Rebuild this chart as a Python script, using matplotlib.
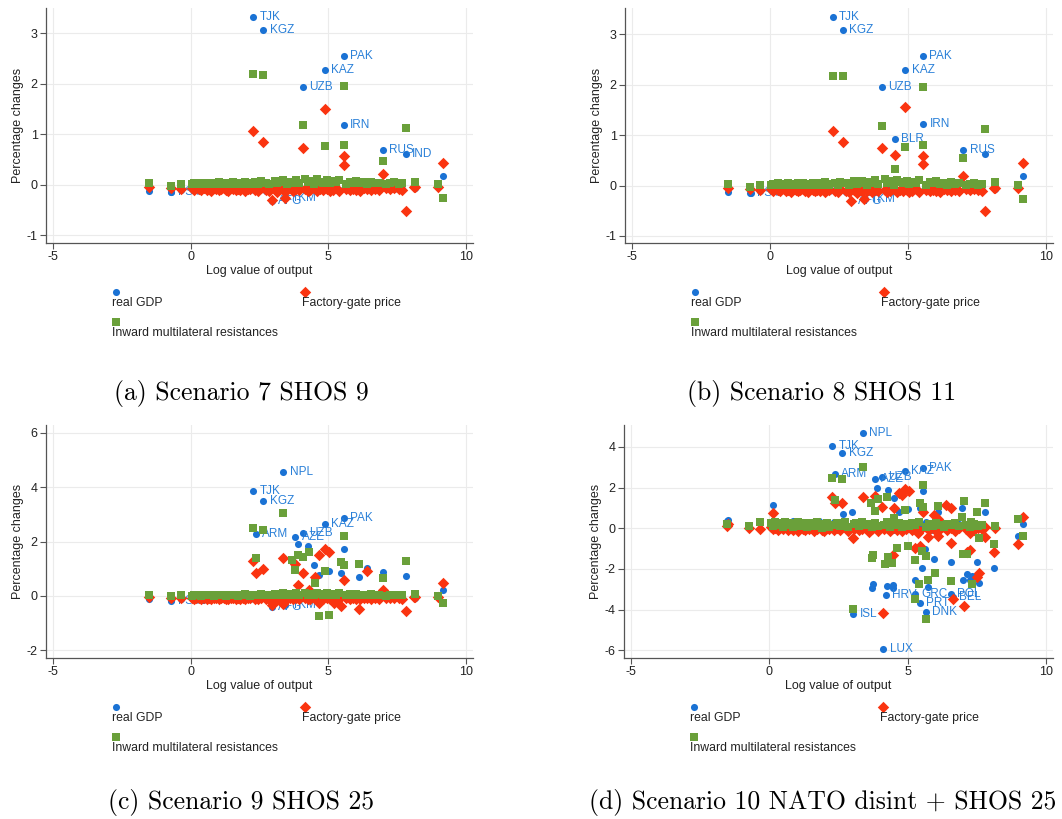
import numpy as np
import matplotlib.pyplot as plt

plt.rcParams['font.family'] = ['Liberation Sans', 'DejaVu Sans']
plt.rcParams['axes.unicode_minus'] = False

BLUE = "#1a72d4"
RED = "#fa3410"
GREEN = "#6aa03a"

# countries sitting in the dense band around zero (log value of output)
band_x = [-1.52, -0.72, -0.35, 0.05, 0.12, 0.20, 0.30, 0.38, 0.50, 0.58,
          0.66, 0.75, 0.85, 0.93, 1.02, 1.10, 1.20, 1.28, 1.37, 1.45,
          1.55, 1.63, 1.72, 1.80, 1.90, 1.98, 2.07, 2.15, 2.35, 2.45,
          2.55, 2.75, 2.85, 3.05, 3.15, 3.25, 3.35, 3.50, 3.60, 3.70,
          3.82, 3.92, 4.15, 4.25, 4.35, 4.48, 4.60, 4.70, 4.80, 4.95,
          5.05, 5.15, 5.28, 5.40, 5.65, 5.78, 5.90, 6.02, 6.15, 6.30,
          6.42, 6.55, 6.70, 6.85, 7.10, 7.25, 7.40, 7.55, 7.68, 8.15]

band_gdp = [-0.13, -0.14, -0.10, -0.08, -0.09, -0.07, -0.10, -0.08, -0.06, -0.09,
            -0.07, -0.08, -0.10, -0.06, -0.09, -0.07, -0.08, -0.11, -0.07, -0.09,
            -0.06, -0.08, -0.10, -0.07, -0.09, -0.08, -0.06, -0.10, -0.08, -0.07,
            -0.09, -0.12, -0.08, -0.10, -0.07, -0.09, -0.11, -0.08, -0.06, -0.10,
            -0.07, -0.09, -0.08, -0.06, -0.10, -0.07, -0.09, -0.08, -0.11, -0.07,
            -0.09, -0.06, -0.08, -0.10, -0.07, -0.09, -0.08, -0.06, -0.10, -0.07,
            -0.09, -0.08, -0.07, -0.10, -0.06, -0.09, -0.08, -0.07, -0.09, -0.06]
band_price = [-0.04, -0.06, -0.08, -0.07, -0.10, -0.06, -0.09, -0.11, -0.07, -0.10,
              -0.08, -0.12, -0.07, -0.09, -0.11, -0.08, -0.06, -0.10, -0.12, -0.07,
              -0.09, -0.11, -0.08, -0.10, -0.07, -0.12, -0.09, -0.08, -0.11, -0.13,
              -0.07, -0.10, -0.12, -0.09, -0.14, -0.08, -0.11, -0.10, -0.07, -0.12,
              -0.09, -0.11, -0.08, -0.13, -0.10, -0.07, -0.12, -0.09, -0.11, -0.08,
              -0.13, -0.10, -0.07, -0.12, -0.09, -0.11, -0.08, -0.10, -0.12, -0.07,
              -0.09, -0.11, -0.08, -0.10, -0.07, -0.09, -0.06, -0.08, -0.10, -0.05]
band_imr = [0.03, -0.02, 0.02, 0.01, 0.03, 0.02, 0.04, 0.01, 0.03, 0.02,
            0.04, 0.02, 0.01, 0.03, 0.05, 0.02, 0.04, 0.01, 0.03, 0.02,
            0.05, 0.03, 0.01, 0.04, 0.02, 0.06, 0.03, 0.01, 0.05, 0.02,
            0.07, 0.04, 0.02, 0.08, 0.03, 0.05, 0.09, 0.02, 0.06, 0.04,
            0.10, 0.03, 0.12, 0.05, 0.08, 0.02, 0.11, 0.06, 0.04, 0.09,
            0.03, 0.07, 0.05, 0.10, 0.02, 0.06, 0.04, 0.08, 0.03, 0.05,
            0.02, 0.06, 0.03, 0.04, 0.01, 0.03, 0.05, 0.02, 0.03, 0.06]

band_gdp_d = [0.38, 0.05, 0.30, 0.18, 0.28, 0.12, 0.32, 0.25, 0.35, 0.15,
              0.30, 0.22, 0.36, 0.18, 0.28, 0.10, 0.33, 0.20, 0.27, 0.14,
              0.31, 0.08, 0.25, 0.35, 0.12, 0.28, 0.05, 0.22, 0.30, 0.10,
              0.18, 0.26, 0.06, 0.15, 0.22, 0.02, 0.12, 0.20, -0.05, 0.10,
              0.15, -0.02, 0.08, 0.30, 0.05, -0.08, 0.12, 0.02, 0.18, -0.04,
              0.08, 0.22, -0.05, 0.10, 0.30, 0.02, -0.10, 0.15, 0.05, 0.25,
              -0.06, 0.12, 0.04, 0.20, -0.03, 0.08, 0.15, 0.02, 0.10, 0.05]
band_price_d = [0.10, 0.02, -0.02, 0.05, -0.05, 0.03, -0.08, 0.01, -0.04, 0.06,
                -0.10, 0.00, -0.06, 0.04, -0.12, 0.02, -0.03, -0.09, 0.05, -0.05,
                0.01, -0.11, -0.02, 0.06, -0.07, -0.15, 0.03, -0.04, -0.10, 0.02,
                -0.06, 0.05, -0.13, -0.02, 0.08, -0.09, -0.04, 0.04, -0.16, -0.03,
                0.06, -0.11, -0.05, 0.03, -0.14, 0.02, -0.08, 0.07, -0.12, -0.02,
                0.05, -0.09, 0.01, -0.15, 0.04, -0.06, 0.09, -0.11, -0.03, 0.06,
                -0.08, 0.03, -0.12, 0.02, -0.05, 0.08, -0.10, 0.01, -0.04, 0.00]
band_imr_d = [0.20, 0.10, 0.30, 0.28, 0.12, 0.32, 0.18, 0.25, 0.08, 0.30,
              0.15, 0.26, 0.05, 0.22, 0.30, 0.12, 0.20, 0.28, 0.06, 0.18,
              0.25, 0.10, 0.30, 0.15, 0.02, 0.22, 0.28, 0.08, 0.18, 0.26,
              0.12, 0.30, 0.05, 0.20, 0.25, 0.10, 0.32, 0.15, 0.22, 0.06,
              0.28, 0.12, 0.18, 0.30, 0.08, 0.22, 0.14, 0.26, 0.05, 0.20,
              0.10, 0.24, 0.15, 0.30, 0.06, 0.20, 0.12, 0.28, 0.18, 0.08,
              0.22, 0.14, 0.26, 0.10, 0.18, 0.05, 0.20, 0.12, 0.16, 0.10]

# (a) Scenario 7 SHOS 9
gdp_x_a = [2.28, 2.64, 5.55, 4.88, 4.07, 5.55, 6.98, 7.80, 9.16, -0.70, 2.95, 3.43]
gdp_y_a = [3.32, 3.07, 2.55, 2.28, 1.94, 1.19, 0.69, 0.61, 0.18, -0.14, -0.31, -0.26]
gdp_lab_a = ["TJK", "KGZ", "PAK", "KAZ", "UZB", "IRN", "RUS", "IND", "", "FSM", "AFG", "TKM"]
price_x_a = [2.28, 2.64, 4.88, 4.07, 5.55, 5.55, 6.98, 7.80, 9.16, 2.95, 3.41, 8.98, 8.10]
price_y_a = [1.06, 0.84, 1.51, 0.73, 0.57, 0.40, 0.22, -0.51, 0.43, -0.29, -0.25, -0.04, -0.05]
imr_x_a = [2.28, 2.64, 5.55, 4.07, 4.88, 5.55, 7.80, 6.98, 9.16, 8.98]
imr_y_a = [2.19, 2.17, 1.95, 1.19, 0.76, 0.79, 1.12, 0.47, -0.25, 0.02]

# (b) Scenario 8 SHOS 11
gdp_x_b = [2.28, 2.64, 5.55, 4.90, 4.07, 5.55, 4.52, 7.00, 7.80, 9.15, -0.70, 2.95, 3.43]
gdp_y_b = [3.34, 3.09, 2.56, 2.30, 1.95, 1.21, 0.92, 0.71, 0.62, 0.18, -0.14, -0.31, -0.26]
gdp_lab_b = ["TJK", "KGZ", "PAK", "KAZ", "UZB", "IRN", "BLR", "RUS", "", "", "FSM", "AFG", "TKM"]
price_x_b = [2.28, 2.64, 4.90, 4.07, 4.52, 5.55, 5.55, 7.00, 7.80, 9.15, 2.95, 3.41, 8.98, 8.10]
price_y_b = [1.09, 0.87, 1.55, 0.75, 0.61, 0.58, 0.42, 0.18, -0.50, 0.44, -0.30, -0.27, -0.04, -0.05]
imr_x_b = [2.28, 2.64, 5.55, 4.07, 4.90, 5.55, 7.80, 7.00, 4.52, 9.15, 8.98]
imr_y_b = [2.18, 2.17, 1.95, 1.19, 0.76, 0.80, 1.13, 0.55, 0.32, -0.26, 0.02]

# (c) Scenario 9 SHOS 25
gdp_x_c = [3.37, 2.28, 2.64, 5.55, 4.88, 4.07, 2.36, 3.80, 3.89, 4.25, 5.55, 4.49,
           4.67, 5.03, 5.45, 6.11, 6.40, 6.98, 7.80, 9.16, -0.70, 0.45, 2.95, 3.43]
gdp_y_c = [4.57, 3.85, 3.50, 2.87, 2.63, 2.32, 2.26, 2.15, 1.91, 1.83, 1.72, 1.14,
           0.77, 0.92, 0.85, 0.71, 1.02, 0.87, 0.74, 0.21, -0.20, -0.15, -0.42, -0.35]
gdp_lab_c = ["NPL", "TJK", "KGZ", "PAK", "KAZ", "UZB", "ARM", "AZE", "", "", "", "",
             "", "", "", "", "", "", "", "", "FSM", "COM", "AFG", "TKM"]
price_x_c = [2.28, 2.36, 2.64, 3.37, 3.80, 3.89, 4.07, 4.28, 4.52, 4.67, 4.88, 5.03,
             5.55, 5.45, 6.11, 6.40, 6.98, 7.80, 9.16, 2.95, 3.37, 4.67, 5.20, 8.98, 8.10]
price_y_c = [1.27, 0.85, 0.99, 1.40, 1.19, 0.41, 0.85, 0.21, 0.70, 1.51, 1.72, 1.62,
             0.60, -0.38, -0.49, 0.90, 0.21, -0.55, 0.48, -0.32, -0.30, -0.26, -0.25, -0.04, -0.05]
imr_x_c = [3.37, 2.28, 2.64, 5.55, 2.36, 3.67, 3.89, 4.07, 4.28, 3.80, 4.88, 4.52,
           5.45, 5.55, 6.11, 7.80, 6.98, 4.67, 5.02, 9.16, 8.98]
imr_y_c = [3.06, 2.48, 2.43, 2.20, 1.38, 1.31, 1.51, 1.44, 1.62, 0.95, 0.93, 0.49,
           1.23, 1.14, 1.18, 1.28, 0.66, -0.75, -0.69, -0.26, 0.01]

# (d) Scenario 10 NATO disint + SHOS 25
gdp_x_d = [3.37, 2.28, 2.64, 2.36, 5.55, 4.90, 4.07, 3.82, 4.21, 5.28, 5.45, 5.65,
           3.04, 4.12, 6.57, 6.62,
           0.15, -1.51, 4.52, 3.90, 4.30, 5.55, 5.02, 4.67, 5.45, 6.10, 6.98, 7.80,
           9.15, 8.97, 2.97, 2.67, 5.64, 5.94, 5.50, 6.56, 7.52, 8.12, 5.72, 5.28,
           3.76, 3.72, 4.26, 4.46, 4.46, 7.00, 7.15, 7.33, 7.58, 7.24]
gdp_y_d = [4.69, 4.06, 3.69, 2.69, 2.95, 2.82, 2.51, 2.41, -3.26, -3.23, -3.67, -4.11,
           -4.24, -5.92, -3.21, -3.38,
           1.13, 0.40, 1.49, 2.00, 1.90, 1.85, 0.95, 0.80, 0.99, 0.78, 0.99, 0.78,
           0.21, -0.37, 0.81, 0.72, -1.02, -1.53, -1.95, -1.65, -1.67, -1.93, -2.88, -2.52,
           -2.72, -2.96, -2.83, -2.78, -2.96, -2.52, -2.27, -2.34, -2.67, -2.55]
gdp_lab_d = ["NPL", "TJK", "KGZ", "ARM", "PAK", "KAZ", "UZB", "AZE", "HRV", "GRC", "PRT", "DNK",
             "ISL", "LUX", "POL", "BEL",
             "", "", "", "", "", "", "", "", "", "", "", "",
             "", "", "", "", "", "", "", "", "", "", "", "",
             "", "", "", "", "", "", "", "", "", ""]
price_x_d = [2.28, 2.36, 2.64, 3.37, 0.15, 3.82, 4.07, 4.52, 4.67, 4.89, 5.05, 4.80,
             5.55, 6.40, 6.57, 5.94, 6.10, 7.80, 9.15, 8.97, 8.12, 7.80, 7.24, 5.74,
             6.10, 6.57, 5.38, 3.04, 4.12, 4.46, 5.28, 5.45, 7.24, 7.13, 7.58, 7.52,
             6.62, 7.03, -1.51]
price_y_d = [1.52, 1.26, 1.23, 1.52, 0.76, 1.59, 1.06, 0.98, 1.75, 1.93, 1.85, 1.64,
             0.80, 1.14, 0.98, 0.63, 0.46, 0.05, 0.57, -0.79, -1.19, -0.45, -0.22, -0.42,
             -0.36, -0.71, -0.22, -0.47, -4.19, -1.32, -0.96, -0.88, -1.07, -1.19, -2.19, -2.42,
             -3.50, -3.80, 0.21]
imr_x_d = [3.37, 2.28, 2.64, 5.55, 2.36, 3.67, 3.94, 4.26, 3.82, 4.52, 4.89, 5.45,
           5.55, 6.10, 7.03, 7.80, 7.52, 6.98, 7.27, 8.97, 9.15, 8.12, 7.58, 3.76,
           3.72, 4.17, 4.43, 4.29, 4.62, 5.02, 5.28, 5.50, 5.65, 5.74, 5.97, 5.41,
           6.57, 7.00, 7.15, 7.33, 5.28, 5.65, 3.04]
imr_y_d = [3.03, 2.47, 2.41, 2.14, 1.39, 1.26, 1.42, 1.55, 0.83, 0.50, 0.90, 1.23,
           1.03, 1.09, 1.34, 1.23, 0.78, 0.54, 0.29, 0.44, -0.37, -0.76, -0.50, -1.32,
           -1.48, -1.76, -1.70, -1.40, -0.96, -0.88, -1.57, -1.11, -1.34, -2.55, -2.19, -2.72,
           -2.59, -1.27, -1.25, -2.72, -3.49, -4.47, -3.95]

PX = 1062
PY = 819
fig = plt.figure(figsize=(PX / 100, PY / 100), dpi=100)


def panel(left, top, right, bottom, ylim, yticks, gdp, price, imr, caption, cap_x, cap_y):
    ax = fig.add_axes([left / PX, 1 - bottom / PY, (right - left) / PX, (bottom - top) / PY])
    gx, gy, glab = gdp
    ax.scatter(gx, gy, s=26, marker="o", color=BLUE, linewidths=0, zorder=3)
    for x, y, t in zip(gx, gy, glab):
        if t:
            ax.annotate(t, (x, y), xytext=(4.5, 0), textcoords="offset points",
                        va="center", ha="left", fontsize=8.5, color="#2a80d8", zorder=3)
    ax.scatter(price[0], price[1], s=34, marker="D", color=RED, linewidths=0, zorder=4)
    ax.scatter(imr[0], imr[1], s=28, marker="s", color=GREEN, linewidths=0, zorder=5)

    ax.set_xlim(-5.25, 10.25)
    ax.set_ylim(*ylim)
    ax.set_xticks([-5, 0, 5, 10])
    ax.set_yticks(yticks)
    ax.grid(True, color="#ebebeb", lw=0.8)
    ax.set_axisbelow(True)
    for s in ["top", "right"]:
        ax.spines[s].set_visible(False)
    for s in ["left", "bottom"]:
        ax.spines[s].set_color("#555555")
        ax.spines[s].set_linewidth(0.9)
    ax.tick_params(labelsize=9, length=4, width=0.8, color="#555555", labelcolor="#222222", pad=2)
    ax.set_xlabel("Log value of output", fontsize=9, color="#222222", labelpad=1)
    ax.set_ylabel("Percentage changes", fontsize=9, color="#222222", labelpad=2)

    # legend under the plot
    lx = left + 70
    ly = bottom + 49
    fig.text((lx - 4) / PX, 1 - (ly + 11) / PY, "real GDP", fontsize=8.8, color="#222222", va="center")
    fig.text((lx + 186) / PX, 1 - (ly + 11) / PY, "Factory-gate price", fontsize=8.8,
             color="#222222", va="center")
    fig.text((lx - 4) / PX, 1 - (ly + 41) / PY, "Inward multilateral resistances", fontsize=8.8,
             color="#222222", va="center")
    lax = fig.add_axes([0, 0, 1, 1], zorder=-1)
    lax.set_xlim(0, PX)
    lax.set_ylim(PY, 0)
    lax.axis("off")
    lax.scatter([lx], [ly], s=26, marker="o", color=BLUE, linewidths=0)
    lax.scatter([lx + 189], [ly], s=34, marker="D", color=RED, linewidths=0)
    lax.scatter([lx], [ly + 30], s=28, marker="s", color=GREEN, linewidths=0)

    fig.text(cap_x / PX, 1 - cap_y / PY, caption, fontsize=18.5, family="cmr10",
             ha="center", va="center")


panel(46, 8, 473, 243, (-1.15, 3.5), [-1, 0, 1, 2, 3],
      (gdp_x_a + band_x, gdp_y_a + band_gdp, gdp_lab_a + [""] * len(band_x)),
      (band_x + price_x_a, band_price + price_y_a),
      (band_x + imr_x_a, band_imr + imr_y_a),
      "(a) Scenario 7 SHOS 9", 241, 393)
panel(625, 8, 1053, 243, (-1.14, 3.52), [-1, 0, 1, 2, 3],
      (gdp_x_b + band_x, gdp_y_b + band_gdp, gdp_lab_b + [""] * len(band_x)),
      (band_x + price_x_b, band_price + price_y_b),
      (band_x + imr_x_b, band_imr + imr_y_b),
      "(b) Scenario 8 SHOS 11", 822, 393)
panel(46, 425, 473, 658, (-2.28, 6.28), [-2, 0, 2, 4, 6],
      (gdp_x_c + band_x, gdp_y_c + band_gdp, gdp_lab_c + [""] * len(band_x)),
      (band_x + price_x_c, band_price + price_y_c),
      (band_x + imr_x_c, band_imr + imr_y_c),
      "(c) Scenario 9 SHOS 25", 241, 803)
panel(624, 425, 1053, 658, (-6.38, 5.08), [-6, -4, -2, 0, 2, 4],
      (gdp_x_d + band_x, gdp_y_d + band_gdp_d, gdp_lab_d + [""] * len(band_x)),
      (band_x + price_x_d, band_price_d + price_y_d),
      (band_x + imr_x_d, band_imr_d + imr_y_d),
      "(d) Scenario 10 NATO disint + SHOS 25", 823, 803)

fig.savefig("out.png", dpi=100, facecolor="white")
